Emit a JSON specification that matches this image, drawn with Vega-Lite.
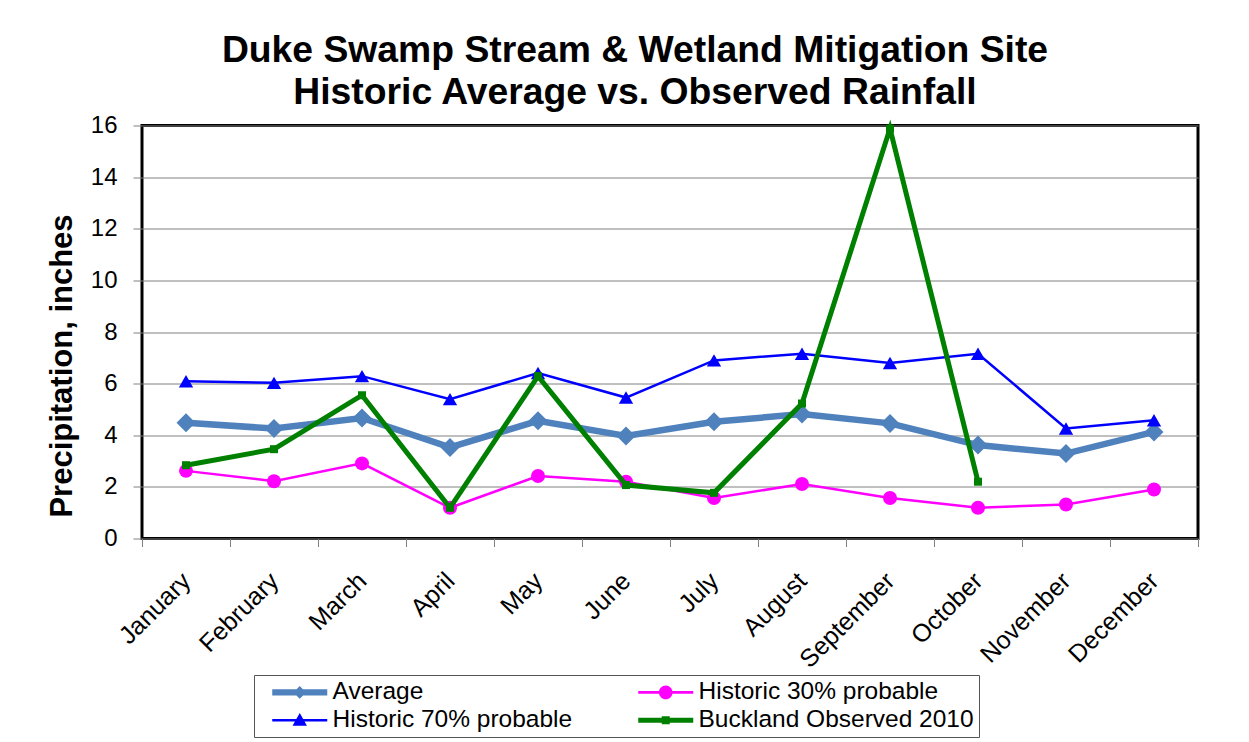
{
  "$schema": "https://vega.github.io/schema/vega-lite/v6.json",
  "width": 1056,
  "height": 413,
  "autosize": {"type": "none"},
  "padding": {"left": 142, "top": 125.5, "right": 51, "bottom": 203.5},
  "background": "white",
  "config": {"font": "Liberation Sans", "view": {"stroke": "black", "strokeWidth": 3}},
  "title": {
    "text": ["Duke Swamp Stream & Wetland Mitigation Site", "Historic Average vs. Observed Rainfall"],
    "fontSize": 37.3, "font": "Liberation Sans", "fontWeight": "bold", "color": "black",
    "anchor": "middle", "frame": "group", "offset": 1, "dx": -35, "lineHeight": 42
  },
  "data": {"values": [
    {"month": "January", "series": "Average", "value": 4.48},
    {"month": "February", "series": "Average", "value": 4.26},
    {"month": "March", "series": "Average", "value": 4.67},
    {"month": "April", "series": "Average", "value": 3.53},
    {"month": "May", "series": "Average", "value": 4.56},
    {"month": "June", "series": "Average", "value": 3.97},
    {"month": "July", "series": "Average", "value": 4.52},
    {"month": "August", "series": "Average", "value": 4.82},
    {"month": "September", "series": "Average", "value": 4.46},
    {"month": "October", "series": "Average", "value": 3.62},
    {"month": "November", "series": "Average", "value": 3.29},
    {"month": "December", "series": "Average", "value": 4.13},
    {"month": "January", "series": "Historic 30% probable", "value": 2.62},
    {"month": "February", "series": "Historic 30% probable", "value": 2.22},
    {"month": "March", "series": "Historic 30% probable", "value": 2.91},
    {"month": "April", "series": "Historic 30% probable", "value": 1.19},
    {"month": "May", "series": "Historic 30% probable", "value": 2.42},
    {"month": "June", "series": "Historic 30% probable", "value": 2.2},
    {"month": "July", "series": "Historic 30% probable", "value": 1.57},
    {"month": "August", "series": "Historic 30% probable", "value": 2.11},
    {"month": "September", "series": "Historic 30% probable", "value": 1.57},
    {"month": "October", "series": "Historic 30% probable", "value": 1.19},
    {"month": "November", "series": "Historic 30% probable", "value": 1.32},
    {"month": "December", "series": "Historic 30% probable", "value": 1.9},
    {"month": "January", "series": "Historic 70% probable", "value": 6.09},
    {"month": "February", "series": "Historic 70% probable", "value": 6.03},
    {"month": "March", "series": "Historic 70% probable", "value": 6.29},
    {"month": "April", "series": "Historic 70% probable", "value": 5.4},
    {"month": "May", "series": "Historic 70% probable", "value": 6.41},
    {"month": "June", "series": "Historic 70% probable", "value": 5.46},
    {"month": "July", "series": "Historic 70% probable", "value": 6.9},
    {"month": "August", "series": "Historic 70% probable", "value": 7.16},
    {"month": "September", "series": "Historic 70% probable", "value": 6.8},
    {"month": "October", "series": "Historic 70% probable", "value": 7.16},
    {"month": "November", "series": "Historic 70% probable", "value": 4.26},
    {"month": "December", "series": "Historic 70% probable", "value": 4.58},
    {"month": "January", "series": "Buckland Observed 2010", "value": 2.84},
    {"month": "February", "series": "Buckland Observed 2010", "value": 3.46},
    {"month": "March", "series": "Buckland Observed 2010", "value": 5.55},
    {"month": "April", "series": "Buckland Observed 2010", "value": 1.19},
    {"month": "May", "series": "Buckland Observed 2010", "value": 6.29},
    {"month": "June", "series": "Buckland Observed 2010", "value": 2.07},
    {"month": "July", "series": "Buckland Observed 2010", "value": 1.77},
    {"month": "August", "series": "Buckland Observed 2010", "value": 5.23},
    {"month": "September", "series": "Buckland Observed 2010", "value": 15.88},
    {"month": "October", "series": "Buckland Observed 2010", "value": 2.2}
  ]},
  "encoding": {
    "x": {
      "field": "month", "type": "nominal",
      "sort": ["January", "February", "March", "April", "May", "June", "July", "August", "September", "October", "November", "December"],
      "scale": {"type": "band", "paddingInner": 0, "paddingOuter": 0},
      "axis": {
        "title": null, "domain": false, "grid": false, "tickBand": "extent",
        "tickSize": 8, "tickColor": "#808080", "tickWidth": 1,
        "labelAngle": -45, "labelAlign": "right", "labelBaseline": "middle",
        "labelPadding": 30, "labelFontSize": 25, "labelColor": "black", "labelFont": "Liberation Sans"
      }
    },
    "y": {
      "field": "value", "type": "quantitative",
      "scale": {"domain": [0, 16], "nice": false, "zero": true},
      "axis": {
        "title": "Precipitation, inches", "titleFontSize": 31, "titleFontWeight": "bold", "titleColor": "black",
        "titleFont": "Liberation Sans", "titleX": -80, "titleY": 240, "titleAngle": -90,
        "titleAlign": "center", "titleBaseline": "middle",
        "values": [0, 2, 4, 6, 8, 10, 12, 14, 16],
        "grid": true, "gridColor": "#808080", "gridWidth": 1, "domain": false,
        "tickSize": 9, "tickColor": "#808080", "tickWidth": 1,
        "labelPadding": 16, "labelFontSize": 24, "labelColor": "black", "labelFont": "Liberation Sans"
      }
    }
  },
  "layer": [
    {
      "transform": [{"filter": "datum.series === 'Average'"}],
      "mark": {"type": "line", "color": "#4F81BD", "strokeWidth": 6.5}
    },
    {
      "transform": [{"filter": "datum.series === 'Average'"}],
      "mark": {"type": "point", "shape": "diamond", "filled": true, "size": 361, "opacity": 1},
      "encoding": {
        "fill": {
          "field": "series", "type": "nominal",
          "scale": {
            "domain": ["Average", "Historic 70% probable", "Historic 30% probable", "Buckland Observed 2010"],
            "range": ["#4F81BD", "#0000FF", "#FF00FF", "#008000"]
          },
          "legend": {
            "title": " ", "titleOrient": "left", "titleFontSize": 1, "titlePadding": 9,
            "orient": "none", "legendX": 112, "legendY": 549.5,
            "columns": 2, "columnPadding": 61, "rowPadding": 3, "padding": 5,
            "strokeColor": "#555555", "fillColor": "white",
            "labelFontSize": 24.5, "labelColor": "black", "labelFont": "Liberation Sans", "labelLimit": 500,
            "labelOffset": 40, "symbolSize": 256, "symbolStrokeWidth": 0, "symbolOpacity": 1,
            "encode": {
              "symbols": {
                "update": {
                  "shape": {"signal": "datum.value === 'Average' ? 'M-1,-0.4H5.875V0.4H-1Z M2.4375,-0.8L3.2375,0L2.4375,0.8L1.6375,0Z' : datum.value === 'Historic 30% probable' ? 'M-1,-0.16H5.875V0.16H-1Z M1.5875,0A0.85,0.85 0 1,1 3.2875,0A0.85,0.85 0 1,1 1.5875,0Z' : datum.value === 'Historic 70% probable' ? 'M-1,-0.16H5.875V0.16H-1Z M2.4375,-0.9L3.3375,0.7L1.5375,0.7Z' : 'M-1,-0.32H5.875V0.32H-1Z M1.9375,-0.5H2.9375V0.5H1.9375Z'"}
                }
              }
            }
          }
        }
      }
    },
    {
      "transform": [{"filter": "datum.series === 'Historic 30% probable'"}],
      "mark": {"type": "line", "color": "#FF00FF", "strokeWidth": 2.5}
    },
    {
      "transform": [{"filter": "datum.series === 'Historic 30% probable'"}],
      "mark": {"type": "point", "shape": "circle", "filled": true, "size": 196, "opacity": 1},
      "encoding": {"fill": {"field": "series", "type": "nominal"}}
    },
    {
      "transform": [{"filter": "datum.series === 'Historic 70% probable'"}],
      "mark": {"type": "line", "color": "#0000FF", "strokeWidth": 2.5}
    },
    {
      "transform": [{"filter": "datum.series === 'Historic 70% probable'"}],
      "mark": {"type": "point", "shape": "triangle-up", "filled": true, "size": 205, "opacity": 1},
      "encoding": {"fill": {"field": "series", "type": "nominal"}}
    },
    {
      "transform": [{"filter": "datum.series === 'Buckland Observed 2010'"}],
      "mark": {"type": "line", "color": "#008000", "strokeWidth": 5}
    },
    {
      "transform": [{"filter": "datum.series === 'Buckland Observed 2010'"}],
      "mark": {"type": "point", "shape": "square", "filled": true, "size": 64, "opacity": 1},
      "encoding": {"fill": {"field": "series", "type": "nominal"}}
    }
  ]
}
